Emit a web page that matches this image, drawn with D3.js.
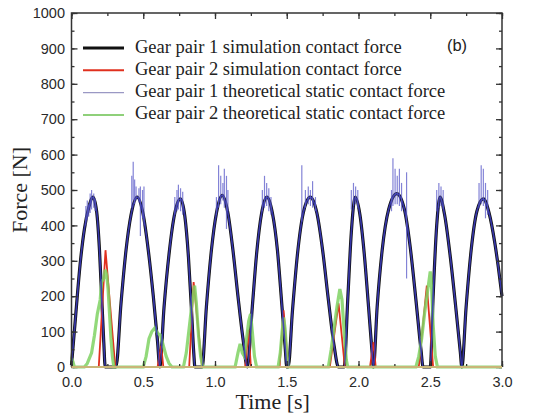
<!DOCTYPE html>
<html>
<head>
<meta charset="utf-8">
<script src="https://cdn.jsdelivr.net/npm/d3@7"></script>
<style>
  body { margin: 0; background: #fff; }
  svg { display: block; }
  .tick text { font-family: "Liberation Sans", Arial, sans-serif; font-size: 14.5px; fill: #2a2a2a; }
</style>
</head>
<body>
<div id="chart"></div>
<script>
// gear pair 1 simulation contact force [time s, force N]
var pair1Sim = [
  [0.00, 5], [0.03, 150], [0.06, 290], [0.09, 390], [0.12, 450], [0.15, 480], [0.175, 440], [0.195, 330], [0.21, 200], [0.225, 70], [0.235, 0],
  [0.31, 0], [0.345, 180], [0.38, 330], [0.415, 430], [0.457, 480], [0.50, 430], [0.535, 330], [0.57, 200], [0.60, 70], [0.615, 0],
  [0.645, 170], [0.68, 320], [0.72, 435], [0.759, 475], [0.79, 425], [0.815, 310], [0.835, 170], [0.852, 40], [0.86, 0],
  [0.91, 0], [0.94, 170], [0.975, 330], [1.01, 435], [1.05, 485], [1.09, 435], [1.125, 330], [1.16, 200], [1.195, 80], [1.225, 0],
  [1.26, 170], [1.29, 320], [1.325, 435], [1.362, 480], [1.40, 435], [1.435, 330], [1.465, 180], [1.49, 50], [1.50, 0],
  [1.51, 0], [1.54, 160], [1.575, 320], [1.615, 435], [1.664, 480], [1.71, 435], [1.75, 330], [1.79, 190], [1.83, 60], [1.86, 0],
  [1.90, 0], [1.925, 190], [1.95, 380], [1.977, 480], [2.01, 430], [2.04, 320], [2.07, 170], [2.095, 40], [2.104, 0],
  [2.13, 170], [2.165, 330], [2.21, 445], [2.267, 490], [2.32, 445], [2.36, 340], [2.40, 190], [2.435, 50], [2.45, 0],
  [2.50, 0], [2.52, 200], [2.545, 400], [2.568, 480], [2.60, 430], [2.64, 310], [2.68, 160], [2.71, 40], [2.72, 0],
  [2.75, 170], [2.785, 330], [2.825, 440], [2.87, 475], [2.91, 435], [2.95, 350], [2.975, 280], [3.00, 200]
]

// gear pair 2 simulation contact force
var pair2Sim = [
  [0.00, 0], [0.19, 0], [0.237, 330], [0.305, 0], [0.60, 0], [0.625, 60], [0.64, 0],
  [0.82, 0], [0.851, 240], [0.91, 0], [1.21, 0], [1.234, 105], [1.25, 0],
  [1.45, 0], [1.478, 160], [1.51, 0], [1.80, 0], [1.861, 180], [1.905, 0],
  [2.08, 0], [2.104, 70], [2.12, 0], [2.42, 0], [2.476, 230], [2.52, 0], [3.00, 0]
]

// gear pair 2 theoretical static contact force
var pair2Theory = [
  [0.00, 25], [0.01, 15], [0.02, 0], [0.09, 0], [0.11, 10], [0.14, 40], [0.16, 90], [0.18, 150], [0.20, 190], [0.21, 240],
  [0.225, 250], [0.235, 275], [0.245, 260], [0.255, 220], [0.265, 150], [0.275, 80], [0.285, 30], [0.295, 0],
  [0.50, 0], [0.52, 30], [0.54, 80], [0.56, 100], [0.58, 110], [0.60, 95], [0.62, 90], [0.64, 60], [0.66, 30], [0.68, 10], [0.70, 0],
  [0.78, 0], [0.80, 40], [0.82, 110], [0.84, 180], [0.858, 230], [0.87, 180], [0.885, 90], [0.90, 30], [0.915, 0],
  [1.14, 0], [1.16, 40], [1.175, 65], [1.19, 40], [1.205, 30], [1.22, 80], [1.235, 130], [1.248, 150], [1.26, 100], [1.275, 30], [1.29, 0],
  [1.44, 0], [1.455, 40], [1.468, 100], [1.478, 140], [1.488, 110], [1.50, 40], [1.51, 0],
  [1.79, 0], [1.81, 50], [1.83, 110], [1.85, 170], [1.87, 220], [1.885, 190], [1.90, 100], [1.915, 20], [1.925, 0],
  [2.40, 0], [2.42, 30], [2.44, 80], [2.46, 150], [2.48, 210], [2.50, 270], [2.51, 220], [2.52, 120], [2.535, 30], [2.55, 0], [3.00, 0]
]

// gear pair 1 theoretical: follows pair1Sim, plus the spikes [time, low, high]
var pair1Spikes = [
  [0.10, 400, 455], [0.11, 415, 470], [0.12, 425, 460], [0.13, 435, 490], [0.14, 445, 500], [0.155, 450, 490], [0.165, 440, 475],
  [0.42, 450, 540], [0.43, 470, 580], [0.44, 460, 530], [0.45, 470, 510], [0.47, 465, 505], [0.48, 370, 510], [0.495, 420, 500], [0.505, 400, 510],
  [0.72, 430, 480], [0.735, 440, 500], [0.745, 445, 515], [0.76, 440, 505], [0.775, 430, 495],
  [1.01, 430, 480], [1.025, 450, 570], [1.04, 460, 540], [1.055, 470, 520], [1.065, 450, 560], [1.08, 390, 540], [1.09, 440, 500],
  [1.33, 440, 500], [1.345, 450, 540], [1.36, 455, 520], [1.375, 440, 505], [1.39, 430, 480],
  [1.605, 410, 570], [1.63, 450, 500], [1.65, 460, 510], [1.665, 455, 500], [1.68, 450, 525], [1.70, 440, 480],
  [1.95, 445, 500], [1.965, 455, 520], [1.98, 460, 510], [1.995, 450, 500],
  [2.23, 440, 500], [2.24, 455, 590], [2.255, 460, 560], [2.27, 460, 540], [2.285, 455, 560], [2.30, 440, 520], [2.335, 250, 550],
  [2.545, 440, 500], [2.56, 450, 520], [2.575, 455, 510], [2.59, 445, 500],
  [2.84, 450, 520], [2.855, 460, 570], [2.87, 455, 560], [2.885, 420, 520], [2.90, 430, 500]
]

var xTicks = [0, 0.5, 1.0, 1.5, 2.0, 2.5, 3.0]
var yTicks = [0, 100, 200, 300, 400, 500, 600, 700, 800, 900, 1000]

var legendItems = [
  { name: "Gear pair 1 simulation contact force", color: "#111111", width: 3.2 },
  { name: "Gear pair 2 simulation contact force", color: "#e0301e", width: 2 },
  { name: "Gear pair 1 theoretical static contact force", color: "#9a98c4", width: 1.2 },
  { name: "Gear pair 2 theoretical static contact force", color: "#8fd07a", width: 2 }
]

var width = 535, height = 416
var plot = { left: 71.5, right: 502, top: 13, bottom: 367 }

var svg = d3.select("#chart").append("svg")
  .attr("width", width)
  .attr("height", height)

var x = d3.scaleLinear().domain([0, 3]).range([plot.left, plot.right])
var y = d3.scaleLinear().domain([0, 1000]).range([plot.bottom, plot.top])

var line = d3.line()
  .x(function (d) { return x(d[0]) })
  .y(function (d) { return y(d[1]) })

var smooth = d3.line()
  .x(function (d) { return x(d[0]) })
  .y(function (d) { return y(d[1]) })
  .curve(d3.curveMonotoneX)

var g = svg.append("g")

// series
g.append("path")
  .datum(pair1Sim)
  .attr("d", smooth)
  .attr("fill", "none")
  .attr("stroke", "#111")
  .attr("stroke-width", 3.2)

g.append("path")
  .datum(pair2Sim)
  .attr("d", line)
  .attr("fill", "none")
  .attr("stroke", "#e0301e")
  .attr("stroke-width", 1.8)

g.append("path")
  .datum(pair2Theory)
  .attr("d", line)
  .attr("fill", "none")
  .attr("stroke", "#7fd263")
  .attr("stroke-width", 3.2)
  .attr("stroke-opacity", 0.85)

g.append("path")
  .datum(pair1Sim)
  .attr("d", smooth)
  .attr("fill", "none")
  .attr("stroke", "#3b3bbb")
  .attr("stroke-width", 1.6)
  .attr("stroke-opacity", 0.9)

g.selectAll(".spike")
  .data(pair1Spikes)
  .enter().append("line")
  .attr("class", "spike")
  .attr("x1", function (d) { return x(d[0]) })
  .attr("x2", function (d) { return x(d[0]) })
  .attr("y1", function (d) { return y(d[1]) })
  .attr("y2", function (d) { return y(d[2]) })
  .attr("stroke", "#5a5ac8")
  .attr("stroke-width", 1.2)
  .attr("stroke-opacity", 0.75)

// axes: inward ticks on all four sides
var minorX = d3.range(0, 3.01, 0.25)
var minorY = d3.range(0, 1001, 50)

function addAxis(axis, tr, hideText) {
  var a = svg.append("g")
    .attr("transform", tr)
    .call(axis)
  a.select(".domain").remove()
  a.selectAll(".tick line").attr("stroke", "#333").attr("stroke-width", 1.3)
  if (hideText) a.selectAll("text").remove()
  return a
}

addAxis(d3.axisBottom(x).tickValues(xTicks).tickFormat(d3.format(".1f")).tickSize(-6).tickPadding(9.5), "translate(0," + plot.bottom + ")")
addAxis(d3.axisBottom(x).tickValues(minorX).tickSize(-3), "translate(0," + plot.bottom + ")", true)
addAxis(d3.axisTop(x).tickValues(xTicks).tickSize(-6), "translate(0," + plot.top + ")", true)
addAxis(d3.axisTop(x).tickValues(minorX).tickSize(-3), "translate(0," + plot.top + ")", true)
addAxis(d3.axisLeft(y).tickValues(yTicks).tickFormat(d3.format("d")).tickSize(-6).tickPadding(6.5), "translate(" + plot.left + ",0)")
addAxis(d3.axisLeft(y).tickValues(minorY).tickSize(-3), "translate(" + plot.left + ",0)", true)
addAxis(d3.axisRight(y).tickValues(yTicks).tickSize(-6), "translate(" + plot.right + ",0)", true)
addAxis(d3.axisRight(y).tickValues(minorY).tickSize(-3), "translate(" + plot.right + ",0)", true)

// frame
svg.append("path")
  .attr("d", "M" + plot.left + "," + plot.bottom + "V" + plot.top + "H" + plot.right + "V" + plot.bottom)
  .attr("fill", "none")
  .attr("stroke", "#333")
  .attr("stroke-width", 1.5)

svg.append("line")
  .attr("x1", plot.left).attr("x2", plot.right)
  .attr("y1", y(0)).attr("y2", y(0))
  .attr("stroke", "#c9b577")
  .attr("stroke-width", 2)

// axis titles
svg.append("text")
  .attr("transform", "translate(27," + ((plot.top + plot.bottom) / 2) + ") rotate(-90)")
  .attr("text-anchor", "middle")
  .style("font-family", "'Liberation Serif', 'Times New Roman', serif")
  .style("font-size", "22px")
  .style("fill", "#222")
  .text("Force [N]")

svg.append("text")
  .attr("x", (plot.left + plot.right) / 2 - 14)
  .attr("y", 409)
  .attr("text-anchor", "middle")
  .style("font-family", "'Liberation Serif', 'Times New Roman', serif")
  .style("font-size", "22px")
  .style("fill", "#222")
  .text("Time [s]")

// legend
var legend = svg.append("g")
  .attr("transform", "translate(83,48)")

var item = legend.selectAll(".item")
  .data(legendItems)
  .enter().append("g")
  .attr("class", "item")
  .attr("transform", function (d, i) { return "translate(0," + (i * 22.3) + ")" })

item.append("line")
  .attr("x1", 0).attr("x2", 41)
  .attr("stroke", function (d) { return d.color })
  .attr("stroke-width", function (d) { return d.width })

item.append("text")
  .attr("x", 52)
  .attr("y", 4.5)
  .style("font-family", "'Liberation Serif', 'Times New Roman', serif")
  .style("font-size", "18.5px")
  .style("fill", "#222")
  .text(function (d) { return d.name })

svg.append("text")
  .attr("x", 457)
  .attr("y", 51)
  .attr("text-anchor", "middle")
  .style("font-family", "'Liberation Sans', Arial, sans-serif")
  .style("font-size", "16.5px")
  .style("fill", "#222")
  .text("(b)")
</script>
</body>
</html>
